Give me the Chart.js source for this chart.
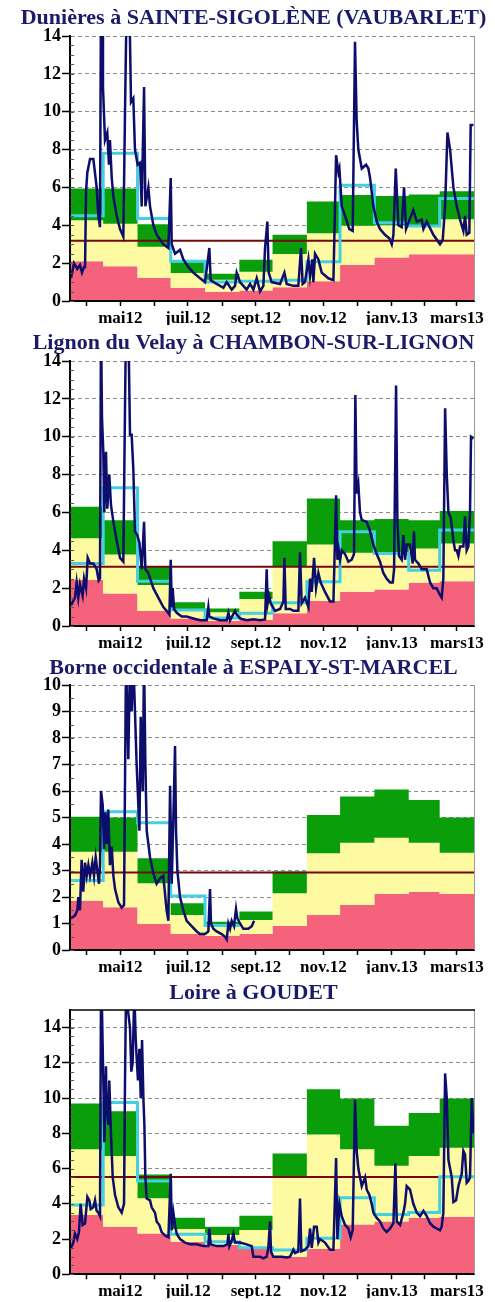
<!DOCTYPE html>
<html>
<head>
<meta charset="utf-8">
<script src="https://cdn.jsdelivr.net/npm/chart.js@4/dist/chart.umd.min.js"></script>
<style>
  body { margin: 0; background: #fff; width: 495px; height: 1302px; overflow: hidden; position: relative; }
  canvas { display: block; position: absolute; left: 0; }
</style>
</head>
<body>
<canvas id="c1" width="495" height="336" style="top:0"></canvas>
<canvas id="c2" width="495" height="336" style="top:325px"></canvas>
<canvas id="c3" width="495" height="336" style="top:650px"></canvas>
<canvas id="c4" width="495" height="327" style="top:975px"></canvas>
<script>
// x axis: days since 1 April 2012
var monthStarts = [0, 30, 61, 91, 122, 153, 183, 214, 244, 275, 306, 334, 365];
var tickDays = [15, 45.5, 76, 106.5, 137.5, 168, 198.5, 229, 259.5, 290.5, 320, 349.5];
var tickLabels = ['', 'mai12', '', 'juil.12', '', 'sept.12', '', 'nov.12', '', 'janv.13', '', 'mars13'];

// Dunières à SAINTE-SIGOLÈNE
var dunRed = [2.1, 1.83, 1.23, 0.7, 0.49, 0.55, 0.73, 1.05, 1.9, 2.3, 2.47, 2.47];
var dunLow = [4.27, 4.08, 2.87, 1.48, 1.12, 1.55, 2.48, 3.58, 3.98, 4.0, 4.0, 4.32];
var dunHigh = [5.95, 5.95, 4.06, 2.05, 1.44, 2.18, 3.5, 5.26, 5.6, 5.55, 5.63, 5.8];
var dunMean = [4.5, 7.8, 4.36, 2.1, 1.0, 1.05, 1.1, 2.08, 6.12, 4.13, 3.96, 5.42];
var dunDays = [0.9, 3.6, 6.6, 9, 10.8, 12.7, 13.6, 14.5, 15.7, 18.1, 21.1, 24.1, 25.6, 27.1, 28, 29.2, 29.8, 31.6, 33.7, 35.2, 36.1, 37.7, 39.2, 42.2, 45.2, 48.2, 49.7, 51.2, 53.6, 55.1, 57.2, 58.7, 61.1, 63.3, 64.8, 66.9, 68.1, 70.8, 72.3, 75.3, 78.3, 84.3, 88.9, 91, 91.9, 94.9, 99.4, 102.4, 106.9, 111.4, 117.5, 122, 125.9, 127.1, 132.5, 138.6, 141.6, 146.1, 149.1, 150.6, 153.6, 159.6, 162.7, 165.7, 168.7, 171.7, 174.7, 176.2, 178.3, 179.5, 182.2, 189.8, 193.7, 195.8, 201.8, 206.3, 208.7, 210.2, 212.3, 215.4, 216.9, 219, 219.9, 221.4, 224.4, 227.4, 233.4, 238, 240.4, 242.5, 243.4, 245.5, 248.5, 252.4, 255.4, 257.5, 259, 260.5, 263.6, 267.5, 269.6, 271.1, 274.1, 277.1, 280.1, 284.6, 288.6, 290.7, 292.2, 294.3, 296.7, 299.7, 301.8, 303.6, 310.2, 313.3, 317.8, 319.3, 322.3, 328.3, 334.3, 336.7, 338.9, 341, 343.4, 346.4, 349.4, 352.4, 355.4, 356.9, 358.4, 360.8, 362, 364.5];
var dunFlow = [1.2, 2.0, 1.7, 1.9, 1.5, 1.8, 1.8, 5.8, 6.8, 7.5, 7.5, 6.0, 4.5, 3.9, 16, 16, 11.3, 8.5, 8.9, 7.2, 8.5, 6.5, 5.5, 4.5, 3.8, 3.4, 10, 16, 16, 10.5, 10.7, 8.0, 7.2, 7.3, 5.0, 11.3, 5.0, 6.0, 5.0, 4.0, 3.5, 3.0, 2.8, 6.5, 3.0, 2.5, 2.7, 2.2, 1.8, 1.5, 1.2, 1.0, 2.8, 1.1, 0.9, 0.7, 1.0, 0.6, 0.8, 1.5, 1.0, 0.6, 0.9, 0.6, 1.2, 0.5, 0.8, 2.8, 4.2, 1.5, 1.0, 0.9, 1.5, 0.9, 0.8, 0.8, 2.8, 0.9, 1.0, 2.2, 1.3, 2.2, 1.0, 2.5, 2.2, 1.5, 1.2, 1.1, 7.7, 6.8, 7.0, 5.0, 4.5, 3.8, 3.7, 13.7, 9.5, 8, 7, 7.2, 7, 6.5, 5, 4.2, 3.8, 3.5, 3.3, 3.0, 3.5, 7.0, 4.0, 3.9, 6.0, 3.8, 4.8, 4.2, 4.3, 3.8, 4.2, 3.5, 3.0, 3.2, 5, 8.9, 8, 6, 5, 4.3, 3.7, 4.5, 3.5, 3.6, 9.3, 9.3];

// Lignon du Velay à CHAMBON-SUR-LIGNON
var ligRed = [2.43, 1.72, 0.79, 0.4, 0.26, 0.32, 0.67, 1.32, 1.81, 1.93, 2.29, 2.37];
var ligLow = [4.63, 3.78, 2.16, 0.88, 0.72, 1.42, 3.13, 4.31, 3.87, 3.83, 4.1, 4.36];
var ligHigh = [6.3, 5.59, 3.13, 1.25, 0.93, 1.81, 4.48, 6.74, 5.59, 5.65, 5.59, 6.07];
var ligMean = [3.3, 7.3, 2.37, 0.85, 0.42, 0.67, 1.23, 2.34, 4.98, 3.83, 2.95, 5.07];
var ligDays = [0.9, 4.5, 6, 7.5, 9, 11.4, 12.7, 14.5, 16, 18.1, 21.1, 24.1, 25.9, 27.1, 28, 28.9, 30.1, 31, 32.5, 33.7, 35.5, 37, 39.2, 42.2, 45.2, 48.2, 49.7, 50.6, 52.7, 54.2, 55.7, 57.2, 58.7, 60.8, 62.7, 64.8, 66.9, 68.1, 70.8, 75.3, 79.8, 84.3, 87.3, 89.8, 91, 91.9, 92.8, 94, 96.4, 100.9, 105.4, 111.4, 117.5, 123.5, 125, 125.9, 129.5, 135.5, 141.6, 143.1, 144.6, 149.1, 150.6, 153.6, 159.6, 165.7, 171.7, 176.2, 177.7, 178.6, 179.8, 181.3, 185.2, 189.8, 192.8, 193.7, 194.9, 198.8, 201.8, 206.3, 207.8, 209.3, 212.3, 215.4, 216.9, 218.4, 220.5, 222.3, 224.4, 226.5, 230.4, 234.9, 238, 240.4, 241.6, 242.8, 244, 245.5, 248.5, 251.5, 254.5, 256.6, 257.8, 259, 260.5, 262, 263.6, 268.1, 271.1, 274.1, 277.1, 280.1, 283.1, 286.1, 289.2, 291.6, 292.8, 294.6, 295.8, 297.3, 299.7, 301.2, 302.7, 304.2, 307.2, 309.6, 310.8, 311.7, 314.8, 317.8, 322.3, 325.3, 328.3, 331.3, 333.7, 335.8, 337.3, 338.9, 340.4, 341.9, 344, 346.4, 347.9, 349.4, 350.9, 352.4, 355.4, 356.9, 358.4, 359.9, 361.4, 362.3, 364.5];
var ligFlow = [1.1, 1.5, 2.3, 1.5, 2.2, 1.6, 2.5, 2.0, 3.6, 3.3, 3.3, 3.0, 2.4, 2.5, 16, 11, 9.2, 6.0, 9.2, 6.2, 8, 6.4, 5.5, 4.5, 3.6, 3.4, 11.6, 16, 16, 10.1, 10.1, 8.3, 5.0, 4.8, 4.4, 3.0, 5.5, 3.0, 2.8, 2.0, 1.5, 1.0, 0.8, 0.6, 3.5, 1.0, 2.0, 0.9, 0.7, 0.5, 0.5, 0.4, 0.3, 0.3, 1.0, 0.5, 0.4, 0.3, 0.3, 0.7, 0.3, 0.8, 0.6, 0.4, 0.3, 0.35, 0.3, 0.35, 3.0, 1.2, 1.6, 1.2, 0.8, 0.9, 1.3, 3.6, 0.9, 0.9, 0.8, 0.8, 3.9, 1.2, 1.5, 1.0, 2.5, 1.8, 3.6, 2.0, 2.8, 2.3, 1.8, 1.3, 1.3, 6.9, 3.5, 4.0, 3.5, 4.0, 3.8, 3.4, 3.5, 3.8, 12.2, 7.0, 7.5, 6.0, 5.6, 5.5, 5.0, 4.3, 3.8, 3.4, 2.8, 2.5, 2.3, 2.3, 3.0, 12.7, 5.5, 3.7, 3.5, 4.8, 3.5, 4.3, 4.3, 3.3, 5.0, 3.5, 3.3, 3.0, 3.0, 2.3, 2.0, 2.0, 1.7, 1.5, 2.5, 11.5, 8, 6.0, 5.7, 4.5, 4.0, 4.0, 3.7, 4.2, 4.2, 5.8, 4.0, 4.2, 6.0, 10.0, 9.9];

// Borne occidentale à ESPALY-ST-MARCEL
var borRed = [1.86, 1.61, 0.98, 0.6, 0.53, 0.6, 0.91, 1.32, 1.7, 2.11, 2.2, 2.11];
var borLow = [3.71, 3.71, 2.52, 1.32, 0.88, 1.13, 2.14, 3.65, 4.05, 4.24, 4.05, 3.67];
var borHigh = [5.03, 5.0, 3.46, 1.76, 1.07, 1.45, 2.96, 5.09, 5.79, 6.06, 5.66, 5.0];
var borMean = [2.62, 5.22, 4.8, 2.04, 0.92, null, null, null, null, null, null, null];
var borDays = [0.9, 4.5, 6.6, 7.5, 9, 10.5, 12, 13.6, 15.1, 16.6, 18.1, 20.2, 21.7, 23.2, 24.7, 26.2, 27.1, 28, 29.5, 30.7, 31.9, 33.1, 34.6, 36.1, 37.7, 39.2, 40.7, 43.7, 46.7, 48.8, 50.6, 52.7, 54.2, 55.7, 57.2, 58.7, 60.2, 62.7, 63.9, 65.7, 66.9, 68.1, 69.3, 70.8, 72.3, 75.3, 78.3, 81.3, 84.3, 87.3, 88.9, 90.4, 91.9, 93.4, 94.9, 95.8, 97, 99.4, 102.4, 105.4, 109.9, 114.5, 117.5, 122, 125, 126.5, 127.4, 129.5, 132.5, 137, 140.1, 141.6, 143.1, 144.6, 146.1, 148.2, 150, 151.2, 153.6, 156.6, 161.1, 164.2, 166.3];
var borFlow = [1.2, 1.3, 1.5, 2.0, 1.5, 3.4, 2.2, 3.3, 2.8, 3.2, 2.8, 3.3, 2.8, 3.5, 3.0, 2.5, 3.2, 6.0, 5.5, 3.8, 5.2, 4.0, 5.3, 3.2, 3.9, 2.8, 2.3, 1.8, 1.6, 1.7, 11, 7.2, 11, 9.0, 11, 9.0, 7.0, 4.5, 8.8, 6.0, 11, 7.0, 4.5, 4.0, 3.5, 2.9, 2.5, 2.7, 2.8, 1.5, 1.1, 6.2, 2.5, 5.0, 7.7, 4.5, 3.0, 2.0, 1.5, 1.1, 0.9, 0.7, 0.6, 0.6, 0.7, 2.3, 1.0, 0.8, 0.7, 0.6, 0.5, 0.4, 1.0, 0.8, 1.1, 0.9, 1.55, 1.2, 1.0, 0.8, 0.8, 0.9, 1.1];

// Loire à GOUDET
var loiRed = [3.36, 2.7, 2.32, 1.85, 1.66, 1.47, 1.0, 1.44, 2.83, 2.99, 3.21, 3.27];
var loiLow = [7.1, 6.71, 4.31, 2.57, 2.23, 2.51, 5.54, 7.93, 7.1, 6.16, 6.71, 7.18];
var loiHigh = [9.69, 9.26, 5.67, 3.21, 2.7, 3.33, 6.86, 10.5, 9.98, 8.43, 9.16, 9.98];
var loiMean = [3.93, 9.75, 5.29, 2.27, 1.85, 1.51, 1.38, 2.04, 4.35, 3.4, 3.51, 5.54];
var loiDays = [0.9, 3, 4.5, 6.6, 8.1, 9.6, 11.4, 13.6, 15.7, 17.5, 18.7, 21.1, 22.6, 24.1, 25.6, 27.1, 28, 28.6, 29.5, 30.4, 31, 32.5, 33.1, 34.6, 35.5, 37, 38.6, 40.7, 43.7, 46.7, 48.8, 49.7, 50.6, 52.7, 54.2, 55.4, 56.6, 58.1, 59.3, 60.2, 61.4, 62.7, 63.9, 65.1, 66.3, 67.2, 68.1, 69.3, 72.3, 73.8, 76.8, 78.3, 80.7, 82.8, 85.8, 88.9, 91, 91.9, 93.4, 94.9, 96.4, 99.4, 103.9, 108.4, 114.5, 120.5, 125, 125.9, 127.1, 132.5, 138.6, 142.2, 143.1, 144, 146.1, 147.6, 149.1, 153.6, 159.6, 164.2, 165.7, 168.7, 171.7, 174.7, 177.7, 179.2, 180.7, 181.6, 183.7, 186.7, 191.3, 195.8, 198.8, 201.8, 203.3, 206.3, 207.8, 209, 212.3, 215.4, 216.9, 218.4, 220.5, 222.9, 224.4, 225.9, 230.4, 234.9, 238, 240.4, 241.6, 243.4, 245.5, 248.5, 251.5, 253.6, 255.4, 257.5, 259, 260.5, 263.6, 266.6, 268.1, 270.5, 272.6, 274.1, 277.1, 280.1, 283.1, 286.1, 289.2, 292.2, 294, 295.2, 298.2, 301.2, 302.7, 304.2, 307.2, 310.2, 313.3, 316.3, 319.3, 322.3, 325.3, 328.3, 331.3, 334.3, 335.8, 337.3, 338.9, 340.4, 341.9, 343.4, 344.9, 346.4, 348.8, 350.9, 353.9, 355.4, 356.9, 358.4, 359.9, 361.4, 362.9, 364.5];
var loiFlow = [1.5, 1.8, 2.3, 2.0, 2.4, 4.0, 2.8, 2.9, 4.4, 4.2, 3.7, 3.8, 4.2, 3.6, 3.5, 3.3, 16, 16, 13, 10, 7.5, 11.8, 9.5, 8.5, 11, 8, 5.5, 4.5, 3.8, 3.5, 4.0, 11, 16, 14.8, 14, 11.5, 12, 16, 13.5, 12.3, 11, 12.8, 10, 13.3, 10, 8.5, 5.5, 4.3, 4.2, 3.8, 3.5, 3.0, 2.8, 2.4, 2.2, 2.1, 5.7, 2.5, 3.5, 2.8, 2.3, 2.0, 1.8, 1.7, 1.7, 1.6, 1.6, 2.6, 1.7, 1.6, 1.6, 1.7, 2.3, 1.6, 1.9, 2.3, 1.8, 1.8, 1.7, 1.6, 1.0, 1.0, 1.0, 0.9, 1.0, 1.5, 3.0, 1.3, 1.0, 1.0, 1.0, 0.95, 1.0, 1.4, 1.2, 1.3, 4.3, 1.3, 1.4, 1.6, 2.6, 1.5, 2.7, 2.7, 1.8, 2.0, 1.8, 1.4, 1.4, 6.6, 2.0, 4.0, 3.3, 2.8, 2.6, 2.1, 2.5, 9.9, 7.0, 6.0, 5.0, 5.5, 4.8, 4.5, 4.0, 3.5, 3.2, 3.0, 2.6, 2.4, 2.6, 2.9, 6.3, 3.0, 2.8, 3.5, 4.0, 5.0, 4.8, 4.0, 3.5, 3.3, 3.6, 3.3, 2.9, 2.7, 2.6, 2.5, 2.7, 3.5, 11.4, 10, 6.5, 6.0, 5.5, 4.1, 4.2, 5.0, 5.7, 7.0, 6.8, 5.2, 5.3, 5.5, 10, 8.0];

var titles = ['Dunières à SAINTE-SIGOLÈNE (VAUBARLET)', 'Lignon du Velay à CHAMBON-SUR-LIGNON',
              'Borne occidentale à ESPALY-ST-MARCEL', 'Loire à GOUDET'];
var thresholds = [3.18, 3.13, 2.92, 5.52];
var yMaxes = [14, 14, 10, 15];
var ySteps = [2, 2, 1, 2];

var RED = '#f4627b', YELLOW = '#fdfaa2', GREEN = '#0a9f0a', CYAN = '#44d0e2',
    NAVY = '#0d0d6b', DARKRED = '#750808', TITLE = '#1b1b68';

Chart.defaults.font.family = "'Liberation Serif', 'DejaVu Serif', serif";

// monthly step values -> stepped line points (value held until next month start)
function stepPoints(vals) {
  var pts = [];
  vals.forEach(function (v, i) {
    if (v === null) return;
    pts.push({ x: monthStarts[i], y: v });
    if (i === vals.length - 1 || vals[i + 1] === null) pts.push({ x: monthStarts[i + 1], y: v });
  });
  return pts;
}

// right border, optional top border and small minor ticks on the y axis
var framePlugin = {
  id: 'frame',
  afterDraw: function (chart, args, opts) {
    var ctx = chart.ctx, a = chart.chartArea, y = chart.scales.y;
    ctx.save();
    ctx.strokeStyle = '#9a9a9a';
    ctx.lineWidth = 1;
    ctx.beginPath();
    ctx.moveTo(a.right + 0.5, a.top);
    ctx.lineTo(a.right + 0.5, a.bottom);
    ctx.stroke();
    if (opts.top) {
      ctx.strokeStyle = '#000';
      ctx.lineWidth = 1.5;
      ctx.beginPath();
      ctx.moveTo(a.left, a.top);
      ctx.lineTo(a.right + 1, a.top);
      ctx.stroke();
    }
    ctx.strokeStyle = '#555';
    ctx.lineWidth = 1;
    for (var v = 0; v < y.max; v += 0.5) {
      var py = Math.round(y.getPixelForValue(v)) + 0.5;
      ctx.beginPath();
      ctx.moveTo(a.left, py);
      ctx.lineTo(a.left + 4, py);
      ctx.stroke();
    }
    ctx.restore();
  }
};

function makeChart(id, k, red, low, high, mean, days, flow, padTop, padBottom) {
  new Chart(document.getElementById(id), {
    type: 'line',
    data: {
      datasets: [
        { data: days.map(function (d, i) { return { x: d, y: flow[i] }; }),
          borderColor: NAVY, borderWidth: 2.5, pointRadius: 0, tension: 0 },
        { data: stepPoints(mean), borderColor: CYAN, borderWidth: 3, stepped: true, pointRadius: 0 },
        { data: [{ x: 0, y: thresholds[k] }, { x: 365, y: thresholds[k] }],
          borderColor: DARKRED, borderWidth: 2, pointRadius: 0 },
        { data: stepPoints(high), borderWidth: 0, backgroundColor: GREEN, fill: '+1', stepped: true, pointRadius: 0 },
        { data: stepPoints(low), borderWidth: 0, backgroundColor: YELLOW, fill: '+1', stepped: true, pointRadius: 0 },
        { data: stepPoints(red), borderWidth: 0, backgroundColor: RED, fill: 'origin', stepped: true, pointRadius: 0 }
      ]
    },
    options: {
      responsive: false,
      animation: false,
      layout: { padding: { left: 12, right: 0, top: 0, bottom: padBottom } },
      plugins: {
        legend: { display: false },
        tooltip: { enabled: false },
        title: { display: true, text: titles[k], color: TITLE,
                 font: { size: 22, weight: 'bold' }, padding: { top: 5, bottom: padTop } },
        frame: { top: k === 3 }
      },
      scales: {
        x: {
          type: 'linear', min: 0, max: 365,
          afterBuildTicks: function (s) { s.ticks = tickDays.map(function (v) { return { value: v }; }); },
          afterFit: function (s) { s.height = 24; },
          ticks: { autoSkip: false, maxRotation: 0, padding: 2, color: '#000',
                   font: { size: 17, weight: 'bold' },
                   callback: function (v, i) { return tickLabels[i]; } },
          grid: { drawOnChartArea: false, tickLength: 5, tickColor: '#000', tickWidth: 1.5 },
          border: { color: '#000', width: 2, z: 1 }
        },
        y: {
          min: 0, max: yMaxes[k],
          afterFit: function (s) { s.width = 58; },
          ticks: { stepSize: ySteps[k], includeBounds: false, padding: 1, color: '#000',
                   font: { size: 18, weight: 'bold' } },
          grid: { color: '#8c8c8c', lineWidth: 1, tickLength: 8, tickColor: '#000', tickWidth: 1.5 },
          border: { color: '#000', width: 2, dash: [4, 3], z: 1 }
        },
        // empty right-hand axis, only reserves the margin right of the plot
        yRight: {
          position: 'right', min: 0, max: 1,
          afterFit: function (s) { s.width = 21; },
          ticks: { display: false },
          grid: { display: false },
          border: { display: false }
        }
      }
    },
    plugins: [framePlugin]
  });
}

makeChart('c1', 0, dunRed, dunLow, dunHigh, dunMean, dunDays, dunFlow, 4.6, 11);
makeChart('c2', 1, ligRed, ligLow, ligHigh, ligMean, ligDays, ligFlow, 4.6, 11);
makeChart('c3', 2, borRed, borLow, borHigh, borMean, borDays, borFlow, 3.6, 12);
makeChart('c4', 3, loiRed, loiLow, loiHigh, loiMean, loiDays, loiFlow, 3.6, 3.7);
</script>
</body>
</html>
